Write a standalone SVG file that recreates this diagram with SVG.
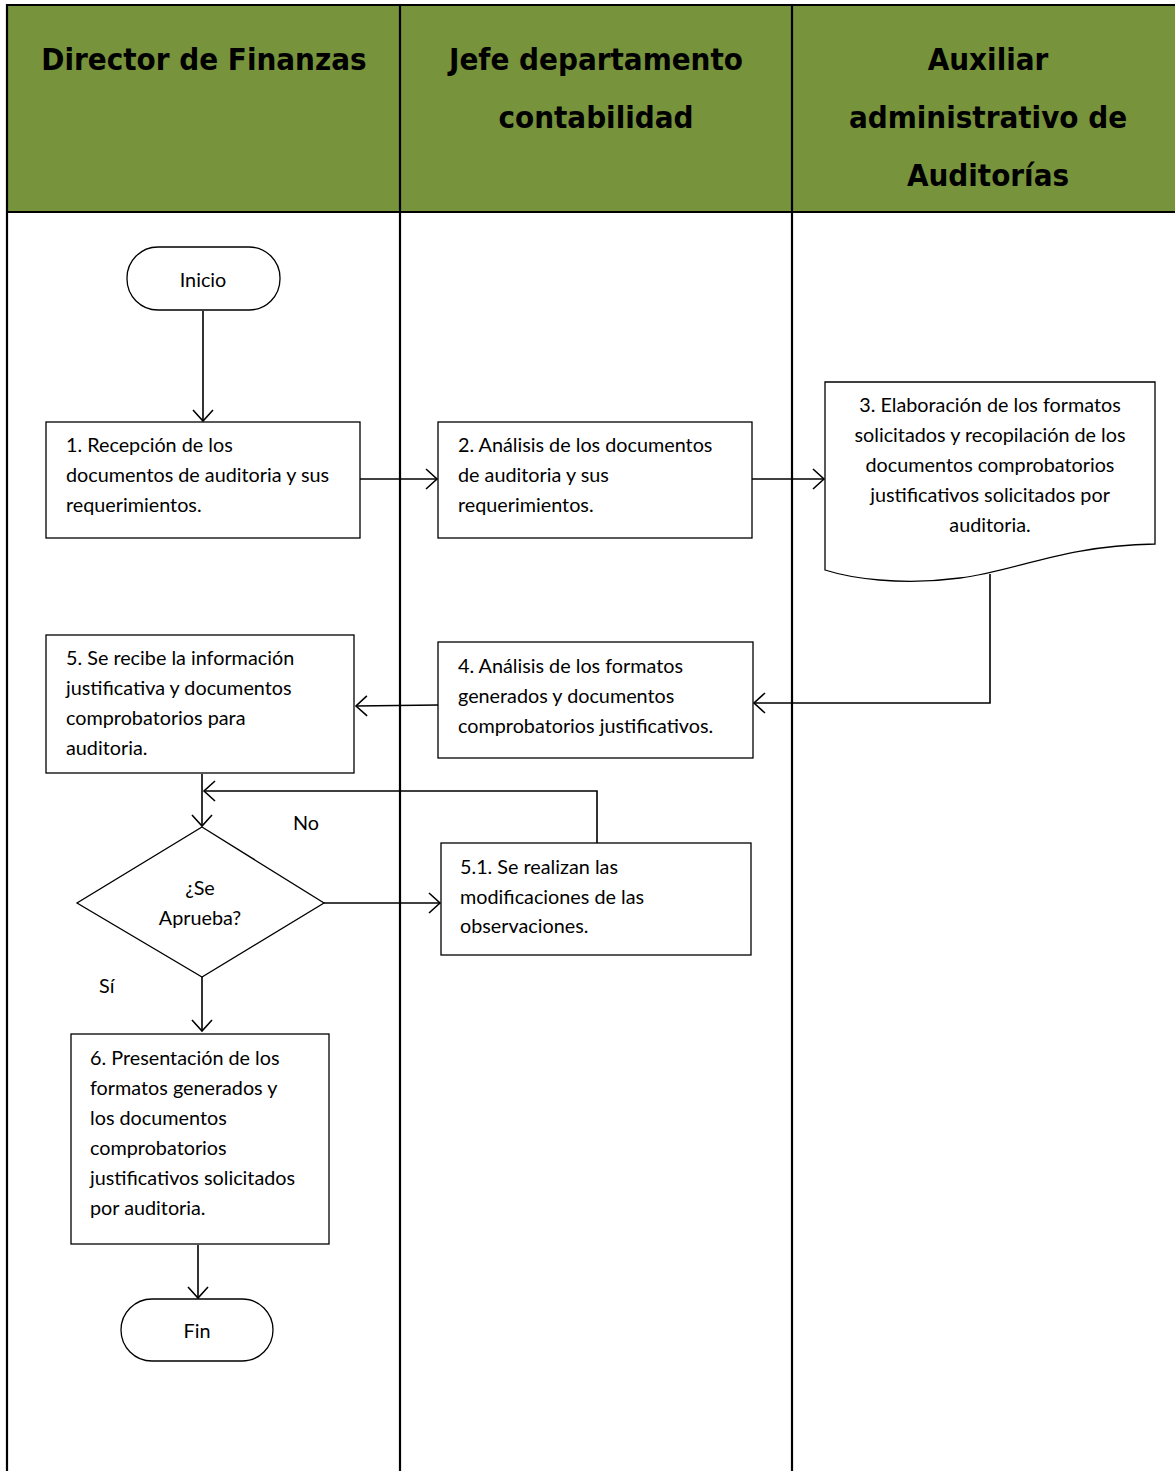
<svg xmlns="http://www.w3.org/2000/svg" width="1175" height="1471" viewBox="0 0 1175 1471">
<style>
.lane{stroke:#000;stroke-width:2.2;fill:none}
.hdr{font-family:"DejaVu Sans Condensed","DejaVu Sans",sans-serif;font-stretch:condensed;font-weight:bold;font-size:31px;fill:#000;text-anchor:middle}
.box{fill:#fff;stroke:#000;stroke-width:1.3}
.t{font-family:Lato,"Open Sans",sans-serif;font-size:19.8px;fill:#000}
.c{text-anchor:middle}
.con{fill:none;stroke:#000;stroke-width:1.6}
</style>
<defs>
<marker id="arr" markerWidth="14" markerHeight="22" refX="12" refY="11" orient="auto" markerUnits="userSpaceOnUse">
<path d="M1,1 L12,11 L1,21" fill="none" stroke="#000" stroke-width="1.6"/>
</marker>
</defs>
<rect width="1175" height="1471" fill="#fff"/>
<g id="header">
<rect x="7" y="5" width="1168" height="207" fill="#77933C"/>
<line class="lane" x1="6" y1="5" x2="1175" y2="5"/>
<line class="lane" x1="6" y1="212" x2="1175" y2="212"/>
<text class="hdr" x="204" y="70">Director de Finanzas</text>
<text class="hdr" x="596" y="70">Jefe departamento</text>
<text class="hdr" x="596" y="128">contabilidad</text>
<text class="hdr" x="988" y="70">Auxiliar</text>
<text class="hdr" x="988" y="128">administrativo de</text>
<text class="hdr" x="988" y="186">Auditorías</text>
</g>
<g id="lanes">
<line class="lane" x1="7" y1="4" x2="7" y2="1471"/>
<line class="lane" x1="400" y1="4" x2="400" y2="1471"/>
<line class="lane" x1="792" y1="4" x2="792" y2="1471"/>
</g>
<g id="connectors">
<line class="con" x1="203" y1="311" x2="203" y2="421" marker-end="url(#arr)"/>
<line class="con" x1="360" y1="479" x2="437" y2="479" marker-end="url(#arr)"/>
<line class="con" x1="752" y1="479" x2="824" y2="479" marker-end="url(#arr)"/>
<polyline class="con" points="990,574 990,703 754,703" marker-end="url(#arr)"/>
<line class="con" x1="438" y1="705" x2="356" y2="706" marker-end="url(#arr)"/>
<line class="con" x1="202" y1="774" x2="202" y2="826" marker-end="url(#arr)"/>
<polyline class="con" points="597,843 597,791 204,791" marker-end="url(#arr)"/>
<line class="con" x1="324" y1="903" x2="440" y2="903" marker-end="url(#arr)"/>
<line class="con" x1="202" y1="977" x2="202" y2="1031" marker-end="url(#arr)"/>
<line class="con" x1="198" y1="1245" x2="198" y2="1298" marker-end="url(#arr)"/>
<text class="t" x="293" y="830">No</text>
<text class="t" x="99" y="993">Sí</text>
</g>
<g id="inicio">
<rect class="box" x="127" y="247" width="153" height="63" rx="31" ry="31"/>
<text class="t c" x="203" y="287">Inicio</text>
</g>
<g id="n1">
<rect class="box" x="46" y="422" width="314" height="116"/>
<text class="t" x="66" y="452">1. Recepción de los</text>
<text class="t" x="66" y="482">documentos de auditoria y sus</text>
<text class="t" x="66" y="512">requerimientos.</text>
</g>
<g id="n2">
<rect class="box" x="438" y="422" width="314" height="116"/>
<text class="t" x="458" y="452">2. Análisis de los documentos</text>
<text class="t" x="458" y="482">de auditoria y sus</text>
<text class="t" x="458" y="512">requerimientos.</text>
</g>
<g id="n3">
<path class="box" d="M825,382 H1155 V544 C1060,546 1020,570 960,578 C900,586 850,578 825,570 Z"/>
<text class="t c" x="990" y="412">3. Elaboración de los formatos</text>
<text class="t c" x="990" y="442">solicitados y recopilación de los</text>
<text class="t c" x="990" y="472">documentos comprobatorios</text>
<text class="t c" x="990" y="502">justificativos solicitados por</text>
<text class="t c" x="990" y="532">auditoria.</text>
</g>
<g id="n4">
<rect class="box" x="438" y="642" width="315" height="116"/>
<text class="t" x="458" y="673">4. Análisis de los formatos</text>
<text class="t" x="458" y="703">generados y documentos</text>
<text class="t" x="458" y="733">comprobatorios justificativos.</text>
</g>
<g id="n5">
<rect class="box" x="46" y="635" width="308" height="138"/>
<text class="t" x="66" y="665">5. Se recibe la información</text>
<text class="t" x="66" y="695">justificativa y documentos</text>
<text class="t" x="66" y="725">comprobatorios para</text>
<text class="t" x="66" y="755">auditoria.</text>
</g>
<g id="decision">
<polygon class="box" points="202,827 324,903 202,977 77,903"/>
<text class="t c" x="200" y="895">¿Se</text>
<text class="t c" x="200" y="925">Aprueba?</text>
</g>
<g id="n51">
<rect class="box" x="441" y="843" width="310" height="112"/>
<text class="t" x="460" y="874">5.1. Se realizan las</text>
<text class="t" x="460" y="904">modificaciones de las</text>
<text class="t" x="460" y="933">observaciones.</text>
</g>
<g id="n6">
<rect class="box" x="71" y="1034" width="258" height="210"/>
<text class="t" x="90" y="1065">6. Presentación de los</text>
<text class="t" x="90" y="1095">formatos generados y</text>
<text class="t" x="90" y="1125">los documentos</text>
<text class="t" x="90" y="1155">comprobatorios</text>
<text class="t" x="90" y="1185">justificativos solicitados</text>
<text class="t" x="90" y="1215">por auditoria.</text>
</g>
<g id="fin">
<rect class="box" x="121" y="1299" width="152" height="62" rx="31" ry="31"/>
<text class="t c" x="197" y="1338">Fin</text>
</g>
</svg>
